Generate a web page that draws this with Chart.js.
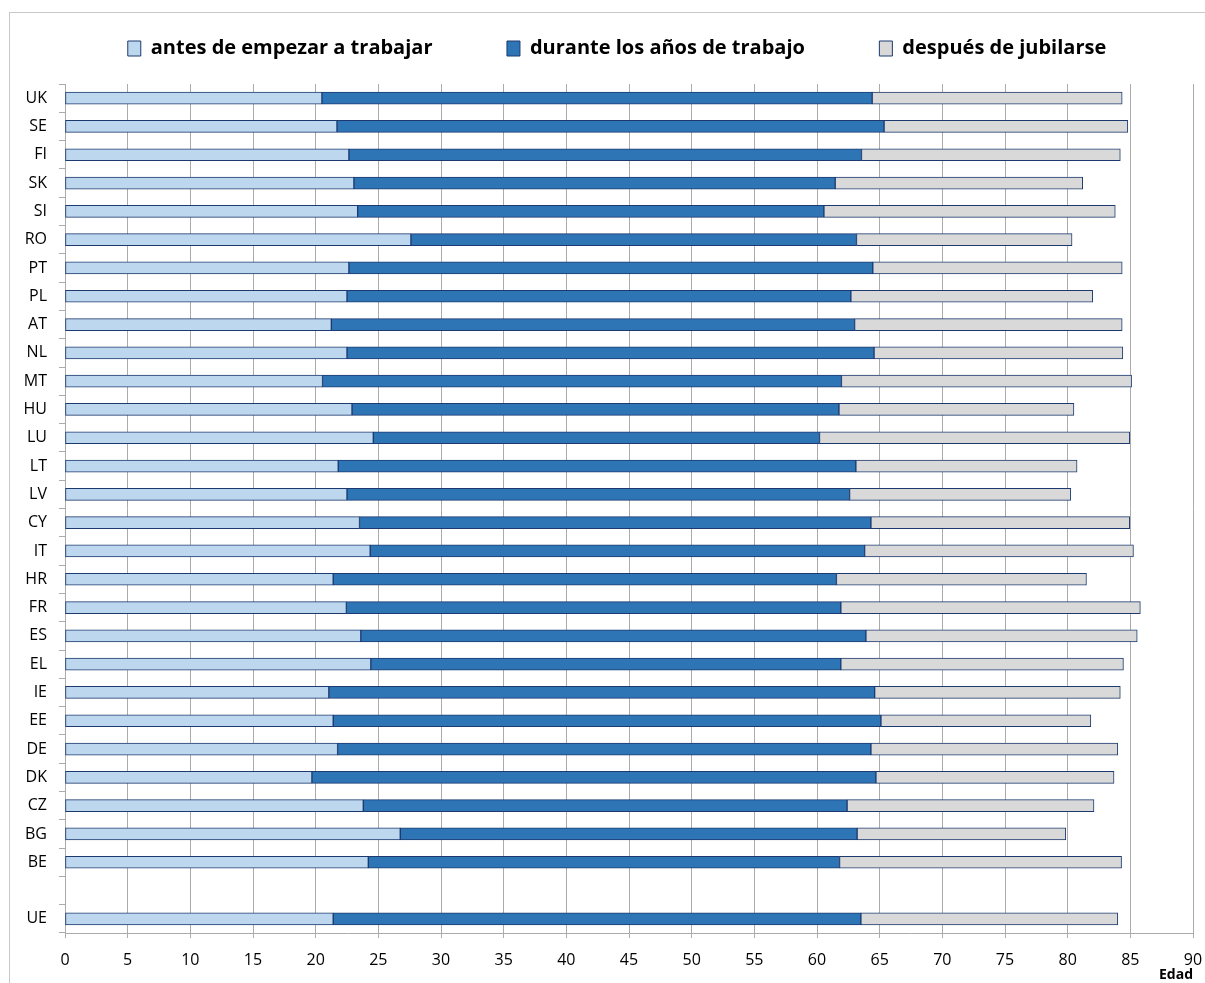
<!DOCTYPE html>
<html>
<head>
<meta charset="utf-8">
<script src="https://cdn.jsdelivr.net/npm/chart.js@4.4.1/dist/chart.umd.min.js"></script>
<style>
  html, body { margin: 0; padding: 0; background: #fff; }
  #wrap { width: 1205px; height: 983px; position: relative; }
</style>
</head>
<body>
<div id="wrap"><canvas id="vida"></canvas></div>
<script>
// paises (de arriba a abajo), hueco vacio antes de UE
const paises = ['UK','SE','FI','SK','SI','RO','PT','PL','AT','NL','MT','HU','LU','LT','LV','CY','IT','HR','FR','ES','EL','IE','EE','DE','DK','CZ','BG','BE','','UE'];

// edad al empezar a trabajar
const edadInicio = [20.5, 21.7, 22.65, 23.05, 23.35, 27.6, 22.65, 22.5, 21.25, 22.5, 20.55, 22.9, 24.6, 21.8, 22.5, 23.5, 24.35, 21.4, 22.45, 23.6, 24.4, 21.05, 21.4, 21.75, 19.7, 23.8, 26.75, 24.2, null, 21.4];
// edad de jubilacion
const edadJubilacion = [64.4, 65.35, 63.55, 61.45, 60.55, 63.15, 64.45, 62.7, 63.0, 64.55, 61.95, 61.75, 60.2, 63.1, 62.6, 64.3, 63.8, 61.55, 61.9, 63.9, 61.9, 64.6, 65.1, 64.3, 64.7, 62.4, 63.2, 61.8, null, 63.5];
// esperanza de vida
const edadFin = [84.35, 84.8, 84.2, 81.2, 83.8, 80.35, 84.35, 82.0, 84.35, 84.4, 85.1, 80.5, 84.95, 80.75, 80.25, 84.95, 85.25, 81.5, 85.8, 85.55, 84.45, 84.2, 81.85, 84.0, 83.7, 82.1, 79.85, 84.3, null, 84.0];

const etiquetas = ['antes de empezar a trabajar', 'durante los años de trabajo', 'después de jubilarse'];

const fuente = "'Open Sans', Lato, sans-serif";
const borde = '#1c3a70';
const rejilla = '#ababab';

function tramo(desde, hasta) {
  return paises.map((p, i) => {
    if (hasta[i] == null) return null;
    return [desde ? desde[i] : 0, hasta[i]];
  });
}

// marco gris del grafico (recortado a la derecha y abajo)
const marco = {
  id: 'marco',
  beforeDraw(chart) {
    const c = chart.ctx;
    c.save();
    c.fillStyle = '#fff';
    c.fillRect(0, 0, chart.width, chart.height);
    c.strokeStyle = '#c8c8c8';
    c.lineWidth = 1;
    c.strokeRect(9.5, 12.5, chart.width + 20, chart.height + 20);
    c.restore();
  }
};

// alto fijo para la leyenda y un poco desplazada a la derecha
const altoLeyenda = {
  id: 'altoLeyenda',
  beforeInit(chart) {
    const fit = chart.legend.fit;
    chart.legend.fit = function() {
      fit.bind(chart.legend)();
      this.height = 84 + 36;
    };
  },
  afterLayout(chart) {
    chart.legend.left += 20.5;
    chart.legend.right += 20.5;
  }
};

const ctx = document.getElementById('vida');

const chartData = {
  labels: paises,
  datasets: [
    { label: etiquetas[0], data: tramo(null, edadInicio), backgroundColor: '#bdd7ee' },
    { label: etiquetas[1], data: tramo(edadInicio, edadJubilacion), backgroundColor: '#2e75b6' },
    { label: etiquetas[2], data: tramo(edadJubilacion, edadFin), backgroundColor: '#d9d9d9' }
  ]
};

chartData.datasets.forEach(ds => {
  ds.borderColor = borde;
  ds.borderWidth = 1;
  ds.borderSkipped = false;
  ds.barThickness = 12;
  ds.grouped = false;
});

new Chart(ctx, {
  type: 'bar',
  data: chartData,
  plugins: [marco, altoLeyenda],
  options: {
    indexAxis: 'y',
    responsive: true,
    maintainAspectRatio: false,
    animation: false,
    layout: { padding: { top: -36, left: 0, right: 12, bottom: 0 } },
    plugins: {
      tooltip: { enabled: false },
      legend: {
        position: 'top',
        labels: {
          boxWidth: 13,
          boxHeight: 15,
          padding: 74.5,
          color: '#000',
          font: { family: fuente, size: 20, weight: 'bold' }
        }
      }
    },
    scales: {
      x: {
        min: 0,
        max: 90,
        ticks: {
          stepSize: 5,
          color: '#000',
          padding: 13,
          font: { family: fuente, size: 16 }
        },
        grid: { color: rejilla, tickLength: 5 },
        border: { color: rejilla },
        title: {
          display: true,
          text: 'Edad',
          align: 'end',
          color: '#000',
          padding: { top: 0, bottom: 0 },
          font: { family: fuente, size: 14, weight: 'bold' }
        },
        afterFit(scale) {
          scale.height = 50;
          scale.paddingLeft = 0;
          scale.paddingRight = 0;
        }
      },
      y: {
        ticks: {
          color: '#000',
          padding: 12,
          autoSkip: false,
          font: { family: fuente, size: 16 }
        },
        grid: { offset: true, drawOnChartArea: false, color: rejilla, tickLength: 6 },
        border: { color: rejilla },
        afterFit(scale) { scale.width = 65; }
      }
    }
  }
});
</script>
</body>
</html>
